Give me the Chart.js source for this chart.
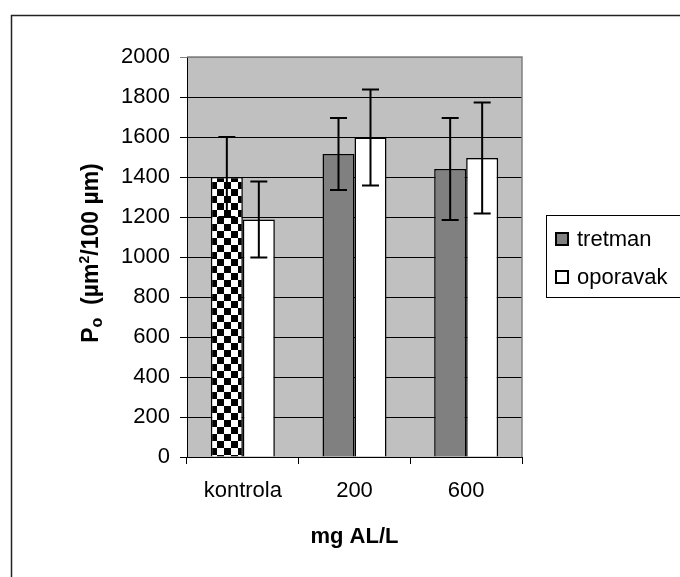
<!DOCTYPE html>
<html>
<head>
<meta charset="UTF-8">
<title>Po</title>
<script src="https://cdn.jsdelivr.net/npm/chart.js"></script>
<style>
  body { margin: 0; background: #fff; }
  #wrap { width: 680px; height: 577px; }
</style>
</head>
<body>
<div id="wrap"><canvas id="grafik" width="680" height="577"></canvas></div>
<script>
// podaci sa slike
const kategorije = ['kontrola', '200', '600'];
const tretman = [1400, 1515, 1440];
const tretmanGreska = [200, 180, 255];
const oporavak = [1188, 1598, 1495];
const oporavakGreska = [190, 240, 277];
const yTicks = [0, 200, 400, 600, 800, 1000, 1200, 1400, 1600, 1800, 2000];

const FONT = '"Liberation Sans", Arial, sans-serif';

// sahovnica za kontrolu
function sahovnica() {
    const c = document.createElement('canvas');
    c.width = 14; c.height = 14;
    const g = c.getContext('2d');
    g.fillStyle = '#fff';
    g.fillRect(0, 0, 14, 14);
    g.fillStyle = '#000';
    g.fillRect(0, 0, 7, 7);
    g.fillRect(7, 7, 7, 7);
    return document.getElementById('grafik').getContext('2d').createPattern(c, 'repeat');
}

const pozadina = {
    id: 'pozadina',
    beforeDraw(chart) {
        const { ctx, chartArea: a } = chart;
        ctx.save();
        ctx.fillStyle = '#fff';
        ctx.fillRect(0, 0, chart.width, chart.height);
        ctx.strokeStyle = '#222';
        ctx.lineWidth = 1.5;
        ctx.strokeRect(11.5, 15.5, 700, 600);
        ctx.fillStyle = '#c0c0c0';
        ctx.fillRect(a.left, a.top, a.right - a.left, a.bottom - a.top);
        ctx.restore();
    },
    beforeDatasetsDraw(chart) {
        const { ctx, chartArea: a } = chart;
        ctx.save();
        ctx.strokeStyle = '#808080';
        ctx.lineWidth = 1.5;
        ctx.beginPath();
        ctx.moveTo(a.left, a.top);
        ctx.lineTo(a.right, a.top);
        ctx.lineTo(a.right, a.bottom);
        ctx.stroke();
        ctx.restore();
    }
};

const greske = {
    id: 'greske',
    afterDatasetsDraw(chart) {
        const { ctx } = chart;
        const y = chart.scales.y;
        const liste = [tretmanGreska, oporavakGreska];
        ctx.save();
        ctx.strokeStyle = '#000';
        ctx.lineWidth = 2;
        chart.data.datasets.forEach(function (ds, i) {
            chart.getDatasetMeta(i).data.forEach(function (bar, j) {
                const v = ds.data[j], e = liste[i][j];
                const y1 = y.getPixelForValue(v + e), y2 = y.getPixelForValue(v - e);
                ctx.beginPath();
                ctx.moveTo(bar.x, y1); ctx.lineTo(bar.x, y2);
                ctx.moveTo(bar.x - 8.5, y1); ctx.lineTo(bar.x + 8.5, y1);
                ctx.moveTo(bar.x - 8.5, y2); ctx.lineTo(bar.x + 8.5, y2);
                ctx.stroke();
            });
        });
        ctx.restore();
    }
};

const naslovi = {
    id: 'naslovi',
    afterDraw(chart) {
        const { ctx, chartArea: a } = chart;
        ctx.save();
        ctx.fillStyle = '#000';
        // x naslov
        ctx.font = 'bold 22px ' + FONT;
        ctx.textAlign = 'center';
        ctx.textBaseline = 'middle';
        ctx.fillText('mg AL/L', (a.left + a.right) / 2, 537);

        // y naslov sa indeksom i eksponentom
        ctx.translate(92, (a.top + a.bottom) / 2 - 4);
        ctx.rotate(-Math.PI / 2);
        ctx.textAlign = 'left';
        ctx.textBaseline = 'middle';
        const dijelovi = [
            ['P', 23, 0], ['o', 16, 6], ['  (\u00b5m', 23, 0], ['2', 14, -7], ['/100 \u00b5m)', 23, 0]
        ];
        let ukupno = 0;
        dijelovi.forEach(function (d) { ctx.font = 'bold ' + d[1] + 'px ' + FONT; ukupno += ctx.measureText(d[0]).width; });
        let x = -ukupno / 2;
        dijelovi.forEach(function (d) {
            ctx.font = 'bold ' + d[1] + 'px ' + FONT;
            ctx.fillText(d[0], x, d[2]);
            x += ctx.measureText(d[0]).width;
        });
        ctx.restore();

        // legenda
        ctx.save();
        ctx.strokeStyle = '#000';
        ctx.lineWidth = 1;
        ctx.fillStyle = '#fff';
        ctx.fillRect(546.5, 215.5, 150, 82);
        ctx.strokeRect(546.5, 215.5, 150, 82);
        const boje = ['#808080', '#ffffff'];
        const ys = [239, 277];
        chart.data.datasets.forEach(function (ds, i) {
            ctx.fillStyle = boje[i];
            ctx.fillRect(556, ys[i] - 6, 12, 12);
            ctx.lineWidth = 2;
            ctx.strokeRect(556, ys[i] - 6, 12, 12);
            ctx.fillStyle = '#000';
            ctx.font = '22px ' + FONT;
            ctx.textAlign = 'left';
            ctx.textBaseline = 'middle';
            ctx.fillText(ds.label, 577, ys[i] + 1);
        });
        ctx.restore();
    }
};

new Chart(document.getElementById('grafik'), {
    type: 'bar',
    data: {
        labels: kategorije,
        datasets: [
            {
                label: 'tretman',
                data: tretman,
                backgroundColor: [sahovnica(), '#808080', '#808080'],
                borderColor: '#000',
                borderWidth: 1.5,
                barPercentage: 1.0,
                categoryPercentage: 0.573
            },
            {
                label: 'oporavak',
                data: oporavak,
                backgroundColor: '#ffffff',
                borderColor: '#000',
                borderWidth: 1.5,
                barPercentage: 1.0,
                categoryPercentage: 0.573
            }
        ]
    },
    options: {
        responsive: false,
        animation: false,
        devicePixelRatio: 1,
        layout: { padding: { left: 0, top: 57, right: 158, bottom: 0 } },
        plugins: {
            legend: { display: false },
            tooltip: { enabled: false }
        },
        scales: {
            x: {
                offset: true,
                grid: { display: true, drawOnChartArea: false, offset: true, color: '#000', tickLength: 7 },
                border: { color: '#000', width: 1 },
                ticks: { color: '#000', padding: 14, font: { family: FONT, size: 22 } },
                afterFit(s) { s.height = 120; }
            },
            y: {
                min: 0,
                max: 2000,
                afterBuildTicks(s) { s.ticks = yTicks.map(function (v) { return { value: v }; }); },
                grid: {
                    color: function (c) { return c.tick && c.tick.value === 2000 ? '#808080' : '#000'; },
                    tickLength: 7
                },
                border: { color: '#000', width: 1 },
                ticks: {
                    color: '#000', padding: 10, font: { family: FONT, size: 22 },
                    callback: function (v) { return String(v); }
                },
                afterFit(s) { s.width = 187; }
            }
        }
    },
    plugins: [pozadina, greske, naslovi]
});
</script>
</body>
</html>
